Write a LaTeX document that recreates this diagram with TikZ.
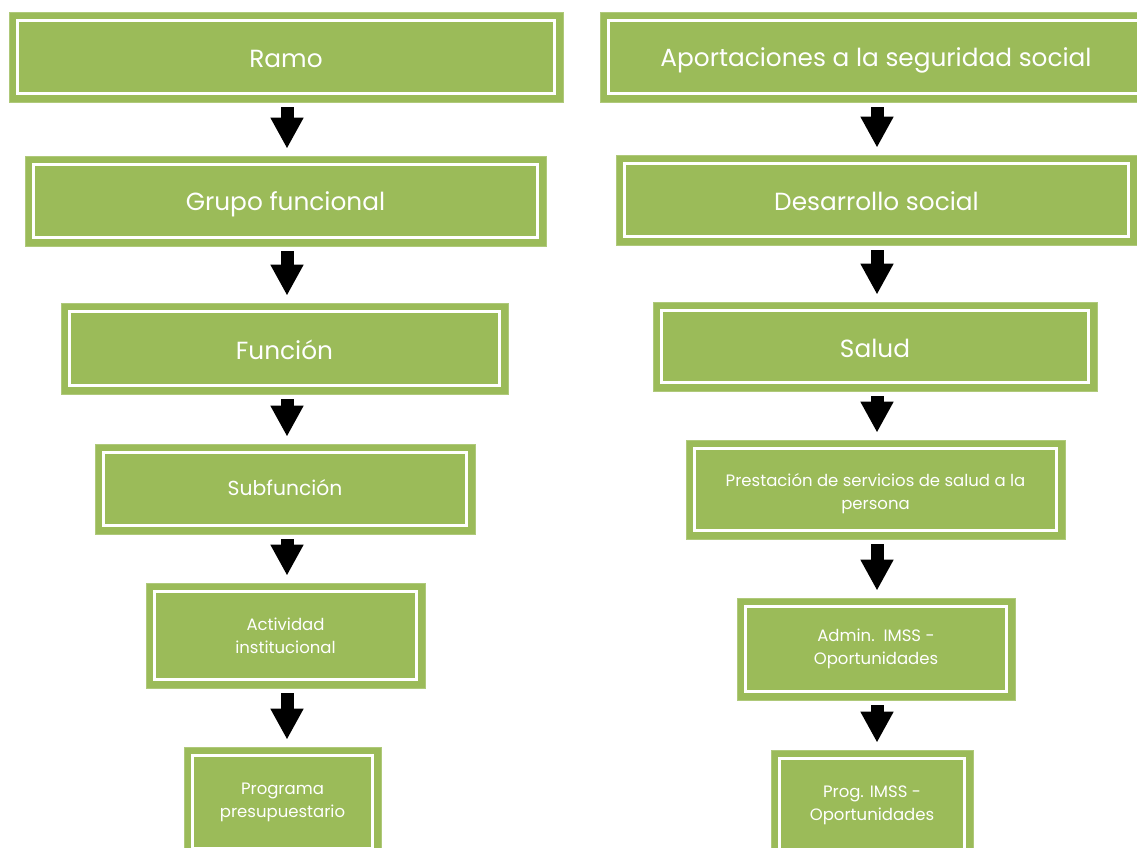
\documentclass[tikz,border=0pt]{standalone}
\usepackage{fontspec}
\setmainfont{Poppins}
\usetikzlibrary{arrows.meta}
\definecolor{boxgreen}{HTML}{9BBB59}
\newcommand{\lowertext}[2]{\raisebox{-#1}[\height][\depth]{#2}}
\tikzset{
  gbox/.style={fill=boxgreen, draw=boxgreen!80!white, line width=0.8pt, text=white, align=center, inner sep=0pt,
    path picture={\draw[white,line width=3pt]
      ([shift={(8.5pt,-8.5pt)}]path picture bounding box.north west) rectangle
      ([shift={(-8.5pt,8.5pt)}]path picture bounding box.south east);}},
  big/.style={font=\fontsize{24.8}{28}\selectfont},
  mid/.style={font=\fontsize{20.3}{24}\selectfont},
  small/.style={font=\fontsize{16.5}{23}\selectfont},
  barrow/.style={line width=13pt, -{Triangle[length=31pt,width=31pt]}, shorten <=5pt, shorten >=7pt}
}
\begin{document}
\begin{tikzpicture}[x=1pt,y=-1pt]
\useasboundingbox (0,0) rectangle (1137,848);
\begin{scope}
\clip (0,0) rectangle (1137,848);
% left column
\node[gbox,big,minimum width=554pt,minimum height=90pt] (L1) at (286,57) {\lowertext{2pt}{Ramo}};
\node[gbox,big,minimum width=521pt,minimum height=90pt] (L2) at (285.5,201) {\lowertext{3.5pt}{Grupo funcional}};
\node[gbox,big,minimum width=447pt,minimum height=91pt] (L3) at (284.5,348.5) {\lowertext{1pt}{Función}};
\node[gbox,mid,minimum width=380pt,minimum height=90pt] (L4) at (285,489) {\lowertext{-1pt}{Subfunción}};
\node[gbox,small,minimum width=279pt,minimum height=105pt] (L5) at (285.5,635.5) {Actividad\\institucional};
\node[gbox,small,minimum width=197pt,minimum height=110pt] (L6) at (282.5,802) {Programa\\presupuestario};
% right column
\node[gbox,big,minimum width=552pt,minimum height=90pt] (R1) at (876,57) {\lowertext{3pt}{Aportaciones a la seguridad social}};
\node[gbox,big,minimum width=521pt,minimum height=90pt] (R2) at (876.5,200) {\lowertext{1pt}{Desarrollo social}};
\node[gbox,big,minimum width=444pt,minimum height=89pt] (R3) at (875,346.5) {\lowertext{2pt}{Salud}};
\node[gbox,small,minimum width=379pt,minimum height=99pt] (R4) at (875.5,489.5) {\rule{0pt}{22pt}Prestación de servicios de salud a la\\persona};
\node[gbox,small,minimum width=278pt,minimum height=102pt] (R5) at (876,649) {Admin.\ \ IMSS -\\Oportunidades};
\node[gbox,small,minimum width=202pt,minimum height=110pt] (R6) at (872,805) {Prog. IMSS -\\Oportunidades};
\end{scope}
% arrows
\coordinate (la) at (287,0);
\coordinate (ra) at (877,0);
\foreach \a/\b in {L1/L2,L2/L3,L3/L4,L4/L5,L5/L6}
  \draw[barrow] (\a.south -| la) -- (\b.north -| la);
\foreach \a/\b in {R1/R2,R2/R3,R3/R4,R4/R5,R5/R6}
  \draw[barrow] (\a.south -| ra) -- (\b.north -| ra);
\end{tikzpicture}
\end{document}
